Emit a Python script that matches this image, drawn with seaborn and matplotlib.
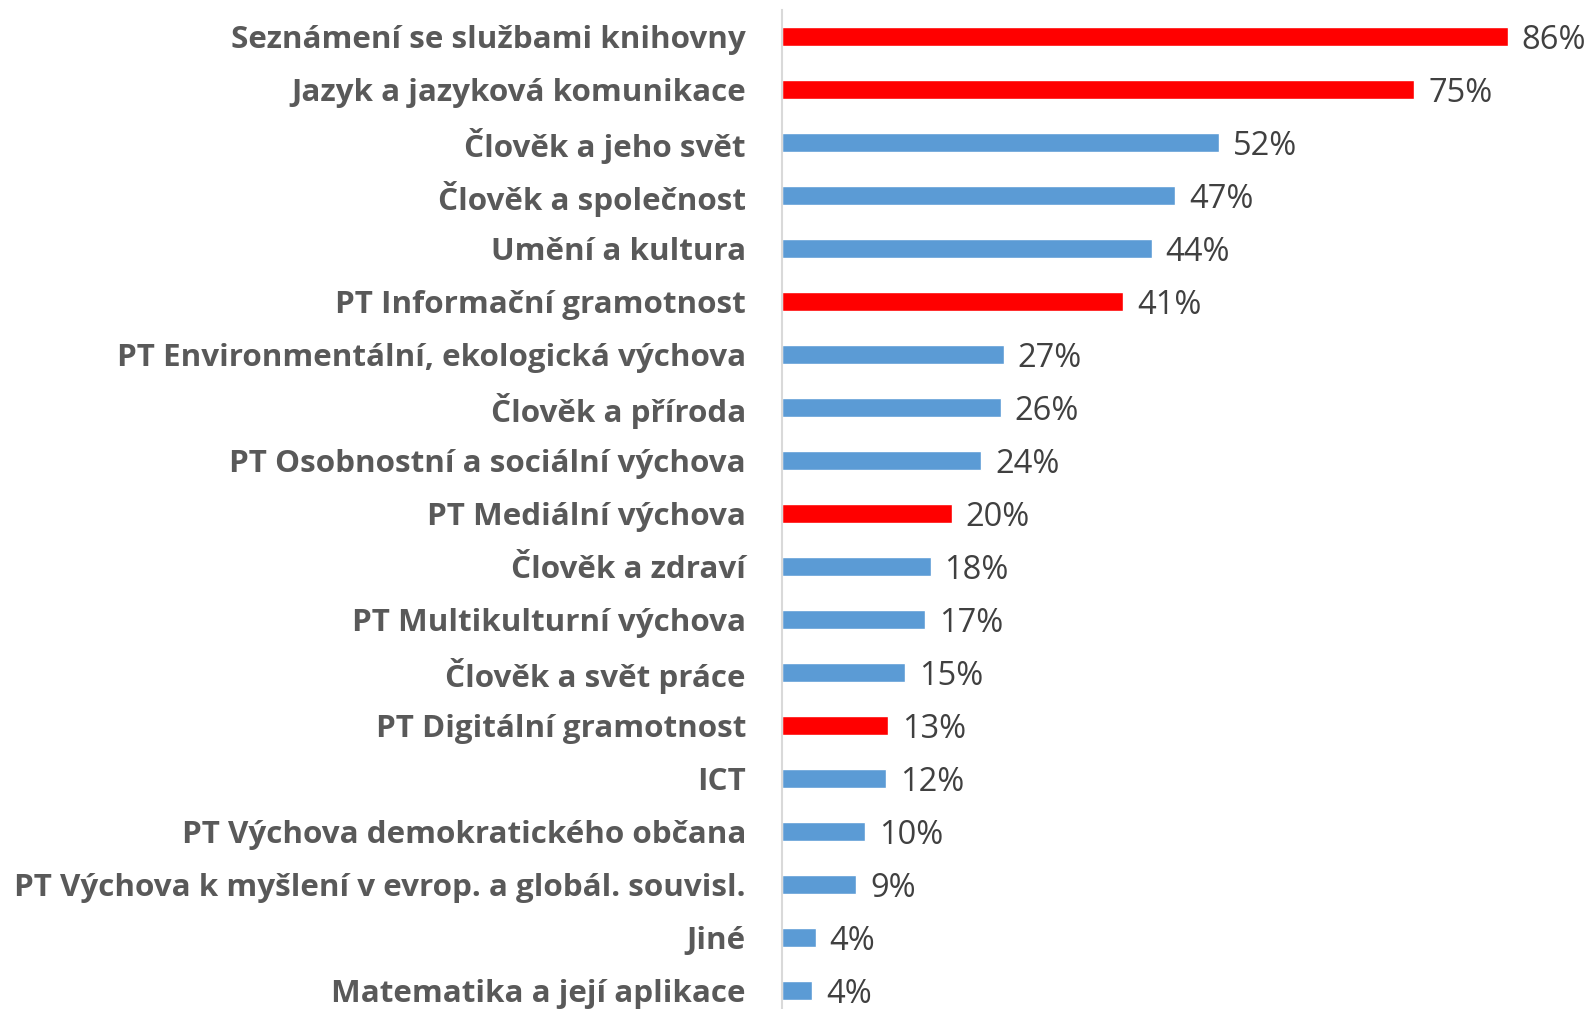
import numpy as np
import pandas as pd
import matplotlib
matplotlib.use('Agg')
import matplotlib.pyplot as plt
import seaborn as sns

# ── Data ──────────────────────────────────────────────────────────────────────
categories = [
    'Seznámení se službami knihovny',
    'Jazyk a jazyková komunikace',
    'Člověk a jeho svět',
    'Člověk a společnost',
    'Umění a kultura',
    'PT Informační gramotnost',
    'PT Environmentální, ekologická výchova',
    'Člověk a příroda',
    'PT Osobnostní a sociální výchova',
    'PT Mediální výchova',
    'Člověk a zdraví',
    'PT Multikulturní výchova',
    'Člověk a svět práce',
    'PT Digitální gramotnost',
    'ICT',
    'PT Výchova demokratického občana',
    'PT Výchova k myšlení v evrop. a globál. souvisl.',
    'Jiné',
    'Matematika a její aplikace',
]
values = [86.0, 74.9, 51.8, 46.6, 43.8, 40.4, 26.3, 25.9, 23.6, 20.1,
          17.6, 17.0, 14.6, 12.6, 12.3, 9.8, 8.8, 4.0, 3.6]
value_labels = ['86%', '75%', '52%', '47%', '44%', '41%', '27%', '26%', '24%', '20%',
                '18%', '17%', '15%', '13%', '12%', '10%', '9%', '4%', '4%']
highlighted = [True, True, False, False, False, True, False, False, False, True,
               False, False, False, True, False, False, False, False, False]

RED = '#FF0000'
BLUE = '#5B9BD5'

df = pd.DataFrame({'kategorie': categories, 'hodnota': values,
                   'skupina': ['red' if h else 'blue' for h in highlighted]})

# ── Graf ──────────────────────────────────────────────────────────────────────
sns.set_style('white')
plt.rcParams['font.family'] = ['Open Sans', 'DejaVu Sans']

W, H = 1593, 1009
fig = plt.figure(figsize=(W / 100, H / 100), dpi=100)
ax_left = 782 / W
ax_right = 1593 / W
ax = fig.add_axes([ax_left, 0.0, ax_right - ax_left, (H - 10) / H])

sns.barplot(data=df, x='hodnota', y='kategorie', hue='skupina',
            palette={'red': RED, 'blue': BLUE}, dodge=False, legend=False,
            width=0.35, saturation=1, ax=ax)

ax.set_ylim(18.35, -0.5)
ax.set_xlim(0, (1593 - 782) / 8.44)
ax.set_xlabel('')
ax.set_ylabel('')
ax.set_xticks([])

for s in ['top', 'right', 'bottom']:
    ax.spines[s].set_visible(False)
ax.spines['left'].set_color('#d9d9d9')
ax.spines['left'].set_linewidth(1.5)

ax.tick_params(axis='y', length=0, pad=26)
for lbl in ax.get_yticklabels():
    lbl.set_fontsize(22.6)
    lbl.set_fontweight('bold')
    lbl.set_color('#595959')

for i, (v, t) in enumerate(zip(values, value_labels)):
    ax.annotate(t, xy=(v, i), xytext=(10, -3), textcoords='offset points',
                va='center', ha='left', fontsize=23.5, color='#404040')

plt.savefig('out.png', dpi=100)
plt.close()
